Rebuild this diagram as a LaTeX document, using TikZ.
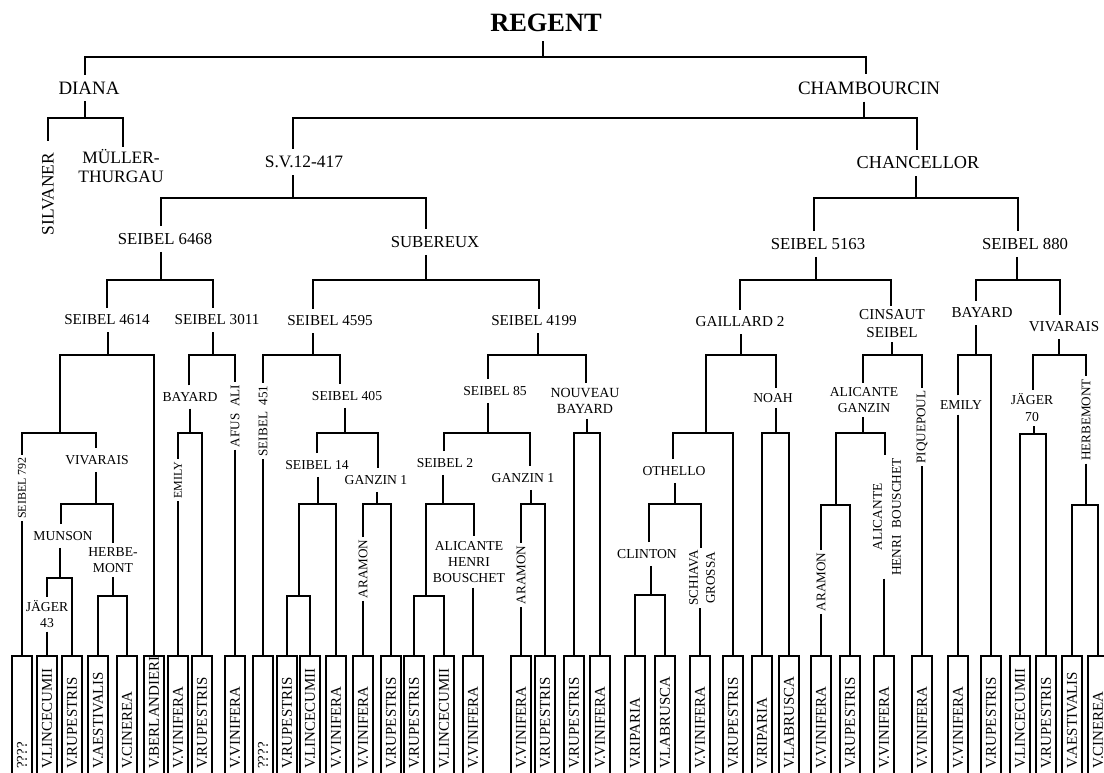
\documentclass[tikz,border=0pt]{standalone}
\usepackage{fontspec}
\setmainfont{Liberation Serif}
\begin{document}
\begin{tikzpicture}[x=1bp,y=-1bp,
  ln/.style={line width=2bp},
  lab/.style={inner xsep=1pt, inner ysep=7pt, align=center},
  vlab/.style={rotate=90, inner xsep=2.5pt, inner ysep=1pt, align=center},
  fA/.style={font=\fontsize{19}{22}\selectfont},
  fB/.style={font=\fontsize{17.5}{20}\selectfont},
  fC/.style={font=\fontsize{16.8}{19}\selectfont},
  fD/.style={font=\fontsize{15.2}{18}\selectfont},
  fE/.style={font=\fontsize{13.7}{15.5}\selectfont},
  fF/.style={font=\fontsize{12}{14}\selectfont},
  fG/.style={font=\fontsize{13.2}{17}\selectfont},
  leafbox/.style={draw, line width=2bp, minimum width=20bp, minimum height=140bp, anchor=north, inner sep=0pt},
  leaftext/.style={rotate=90, anchor=west, inner sep=0pt, font=\fontsize{15}{15}\selectfont}
]
\useasboundingbox (0,0) rectangle (1104,773);

% ---------- labels ----------
\node[inner sep=0pt, inner ysep=9pt, font=\fontsize{26.5}{30}\selectfont\bfseries] (reg) at (546,23) {REGENT};
\node[lab,fA] (diana) at (89,88) {DIANA};
\node[lab,fA] (chamb) at (869,88) {CHAMBOURCIN};
\node[vlab,fB,inner xsep=12pt] (silv) at (48,194) {SILVANER};
\node[lab,fB,inner ysep=2pt] (mull) at (121,166) {MÜLLER-\\THURGAU};
\node[lab,fB] (sv) at (304,162) {S.V.12-417};
\node[lab,fA,font=\fontsize{18.3}{21}\selectfont] (chan) at (918,163) {CHANCELLOR};
\node[lab,fC] (s6468) at (165,239) {SEIBEL 6468};
\node[lab,fC] (sub) at (435,242) {SUBEREUX};
\node[lab,fC] (s5163) at (818,244) {SEIBEL 5163};
\node[lab,fC] (s880) at (1025,244) {SEIBEL 880};

\node[lab,fD] (s4614) at (107,320) {SEIBEL 4614};
\node[lab,fD] (s3011) at (217,320) {SEIBEL 3011};
\node[lab,fD] (s4595) at (330,321) {SEIBEL 4595};
\node[lab,fD] (s4199) at (534,321) {SEIBEL 4199};
\node[lab,fD] (gail) at (740,322) {GAILLARD 2};
\node[lab,fD,inner ysep=4pt] (cins) at (892,324) {CINSAUT\\SEIBEL};
\node[lab,fD] (bay2) at (982,313) {BAYARD};
\node[lab,fD] (viv2) at (1064,327) {VIVARAIS};

\node[vlab,fF] (s792) at (22,488) {SEIBEL 792};
\node[lab,fE] (viv1) at (97,460) {VIVARAIS};
\node[lab,fE] (mun) at (63,536) {MUNSON};
\node[lab,fE,inner ysep=4pt] (jag43) at (47,614) {JÄGER\\43};
\node[lab,fE,inner ysep=5pt] (herb1) at (113,560) {HERBE-\\MONT};
\node[lab,fE] (bay1) at (190,397) {BAYARD};
\node[vlab,fF] (emily1) at (178,480) {EMILY};
\node[vlab,fG] (afus) at (235,416) {AFUS\ \ ALI};

\node[vlab,fG] (s451) at (263,421) {SEIBEL\ \ 451};
\node[lab,fE] (s405) at (347,396) {SEIBEL 405};
\node[lab,fE] (s14) at (317,465) {SEIBEL 14};
\node[lab,fE] (gan1) at (376,480) {GANZIN 1};
\node[vlab,fG] (ara1) at (363,569) {ARAMON};
\node[lab,fE] (s85) at (495,391) {SEIBEL 85};
\node[lab,fE] (s2) at (445,463) {SEIBEL 2};
\node[lab,fE,font=\fontsize{13.7}{16}\selectfont,inner ysep=5pt] (ahb1) at (469,562) {ALICANTE\\HENRI\\BOUSCHET};
\node[lab,fE] (gan2) at (523,478) {GANZIN 1};
\node[vlab,fG] (ara2) at (521,575) {ARAMON};
\node[lab,fE,font=\fontsize{14}{16}\selectfont,inner ysep=5pt] (nbay) at (585,401) {NOUVEAU\\BAYARD};

\node[lab,fE] (oth) at (674,471) {OTHELLO};
\node[lab,fE,inner ysep=5pt] (noah) at (773,398) {NOAH};
\node[lab,fE] (clin) at (647,554) {CLINTON};
\node[vlab,fG] (sch) at (702,578) {SCHIAVA\\GROSSA};
\node[lab,fE,inner ysep=5pt] (alg) at (864,400) {ALICANTE\\GANZIN};
\node[vlab,fG] (ara3) at (821,582) {ARAMON};
\node[vlab,font=\fontsize{13.4}{19}\selectfont] (ahb2) at (887,517) {ALICANTE\\HENRI\ \ BOUSCHET};
\node[vlab,fG] (piq) at (922,427) {PIQUEPOUL};
\node[lab,fE,inner ysep=5pt] (emily2) at (961,405) {EMILY};
\node[lab,fE,font=\fontsize{13.7}{17}\selectfont,inner ysep=4pt] (jag70) at (1032,408) {JÄGER\\70};
\node[vlab,fG] (herb2) at (1086,420) {HERBEMONT};

% ---------- leaves ----------
\foreach \i/\x/\t in {1/22/????, 2/47/V.LINCECUMII, 3/72/V.RUPESTRIS, 4/98/V.AESTIVALIS,
  5/127/V.CINEREA, 6/154/V.BERLANDIERI, 7/178/V.VINIFERA, 8/202/V.RUPESTRIS,
  9/235/V.VINIFERA, 10/263/????, 11/287/V.RUPESTRIS, 12/310/V.LINCECUMII,
  13/336/V.VINIFERA, 14/363/V.VINIFERA, 15/391/V.RUPESTRIS, 16/414/V.RUPESTRIS,
  17/444/V.LINCECUMII, 18/473/V.VINIFERA, 19/521/V.VINIFERA, 20/545/V.RUPESTRIS,
  21/574/V.RUPESTRIS, 22/600/V.VINIFERA, 23/635/V.RIPARIA, 24/665/V.LABRUSCA,
  25/700/V.VINIFERA, 26/733/V.RUPESTRIS, 27/762/V.RIPARIA, 28/789/V.LABRUSCA,
  29/821/V.VINIFERA, 30/850/V.RUPESTRIS, 31/884/V.VINIFERA, 32/922/V.VINIFERA,
  33/958/V.VINIFERA, 34/991/V.RUPESTRIS, 35/1020/V.LINCECUMII, 36/1046/V.RUPESTRIS,
  37/1072/V.AESTIVALIS, 38/1098/V.CINEREA}
{
  \node[leafbox] (L\i) at (\x,655) {};
  \node[leaftext] (T\i) at (\x,769) {\t};
}

% ---------- connectors ----------
\begin{scope}[ln]
% REGENT
\draw (reg.south -| 543,0) -- (543,57);
\draw (diana.north -| 85,0) |- (866,57) -- (chamb.north -| 866,0);
% DIANA
\draw (diana.south -| 85,0) -- (85,118);
\draw (silv.east) |- (123,118) -- (mull.north -| 123,0);
% CHAMBOURCIN
\draw (chamb.south -| 864,0) -- (864,118);
\draw (sv.north -| 293,0) |- (917,118) -- (chan.north -| 917,0);
% S.V.12-417
\draw (sv.south -| 293,0) -- (293,198);
\draw (s6468.north -| 161,0) |- (426,198) -- (sub.north -| 426,0);
% CHANCELLOR
\draw (chan.south -| 916,0) -- (916,198);
\draw (s5163.north -| 814,0) |- (1018,198) -- (s880.north -| 1018,0);
% SEIBEL 6468
\draw (s6468.south -| 161,0) -- (161,280);
\draw (s4614.north -| 107,0) |- (213,280) -- (s3011.north -| 213,0);
% SUBEREUX
\draw (sub.south -| 426,0) -- (426,280);
\draw (s4595.north -| 313,0) |- (539,280) -- (s4199.north -| 539,0);
% SEIBEL 5163
\draw (s5163.south -| 816,0) -- (816,280);
\draw (gail.north -| 740,0) |- (891,280) -- (cins.north -| 891,0);
% SEIBEL 880
\draw (s880.south -| 1017,0) -- (1017,280);
\draw (bay2.north -| 976,0) |- (1060,280) -- (viv2.north -| 1060,0);

% SEIBEL 4614
\draw (s4614.south -| 108,0) -- (108,355);
\draw (60,433) |- (L6.north |- 0,355) -- (L6.north);
\draw (s792.east) |- (96,433) -- (viv1.north -| 96,0);
\draw (s792.west) -- (L1.north);
\draw (viv1.south -| 96,0) -- (96,504);
\draw (mun.north -| 61,0) |- (113,504) -- (herb1.north -| 113,0);
\draw (mun.south -| 60,0) -- (60,578);
\draw (jag43.north -| 47,0) |- (L3.north |- 0,578) -- (L3.north);
\draw (jag43.south -| 47,0) -- (L2.north);
\draw (herb1.south -| 113,0) -- (113,596);
\draw (L4.north) |- (L5.north |- 0,596) -- (L5.north);
% SEIBEL 3011
\draw (s3011.south -| 213,0) -- (213,355);
\draw (bay1.north -| 189,0) |- (235,355) -- (afus.east);
\draw (afus.west) -- (L9.north);
\draw (bay1.south -| 190,0) -- (190,433);
\draw (emily1.east) |- (L8.north |- 0,433) -- (L8.north);
\draw (emily1.west) -- (L7.north);

% SEIBEL 4595
\draw (s4595.south -| 313,0) -- (313,355);
\draw (s451.east) |- (340,355) -- (s405.north -| 340,0);
\draw (s451.west) -- (L10.north);
\draw (s405.south -| 345,0) -- (345,433);
\draw (s14.north -| 317,0) |- (378,433) -- (gan1.north -| 378,0);
\draw (s14.south -| 318,0) -- (318,504);
\draw (299,596) |- (L13.north |- 0,504) -- (L13.north);
\draw (L11.north) |- (L12.north |- 0,596) -- (L12.north);
\draw (gan1.south -| 377,0) -- (377,504);
\draw (ara1.east) |- (L15.north |- 0,504) -- (L15.north);
\draw (ara1.west) -- (L14.north);

% SEIBEL 4199
\draw (s4199.south -| 538,0) -- (538,355);
\draw (s85.north -| 488,0) |- (586,355) -- (nbay.north -| 586,0);
\draw (s85.south -| 488,0) -- (488,433);
\draw (s2.north -| 444,0) |- (530,433) -- (gan2.north -| 530,0);
\draw (s2.south -| 443,0) -- (443,504);
\draw (426,596) |- (474,504) -- (ahb1.north -| 474,0);
\draw (L16.north) |- (L17.north |- 0,596) -- (L17.north);
\draw (ahb1.south -| 473,0) -- (L18.north);
\draw (gan2.south -| 531,0) -- (531,504);
\draw (ara2.east) |- (L20.north |- 0,504) -- (L20.north);
\draw (ara2.west) -- (L19.north);
\draw (nbay.south -| 587,0) -- (587,433);
\draw (L21.north) |- (L22.north |- 0,433) -- (L22.north);

% GAILLARD 2
\draw (gail.south -| 741,0) -- (741,355);
\draw (706,433) |- (776,355) -- (noah.north -| 776,0);
\draw (noah.south -| 776,0) -- (776,433);
\draw (L27.north) |- (L28.north |- 0,433) -- (L28.north);
\draw (oth.north -| 673,0) |- (L26.north |- 0,433) -- (L26.north);
\draw (oth.south -| 675,0) -- (675,504);
\draw (clin.north -| 649,0) |- (701,504) -- (sch.east -| 701,0);
\draw (clin.south -| 651,0) -- (651,595);
\draw (L23.north) |- (L24.north |- 0,595) -- (L24.north);
\draw (sch.west -| 700,0) -- (L25.north);

% CINSAUT SEIBEL
\draw (cins.south -| 892,0) -- (892,355);
\draw (alg.north -| 863,0) |- (922,355) -- (piq.east);
\draw (piq.west) -- (L32.north);
\draw (alg.south -| 863,0) -- (863,433);
\draw (836,505) |- (885,433) -- (ahb2.east -| 885,0);
\draw (ahb2.west -| 884,0) -- (L31.north);
\draw (ara3.east) |- (L30.north |- 0,505) -- (L30.north);
\draw (ara3.west) -- (L29.north);

% BAYARD (right)
\draw (bay2.south -| 976,0) -- (976,355);
\draw (emily2.north -| 958,0) |- (L34.north |- 0,355) -- (L34.north);
\draw (emily2.south -| 958,0) -- (L33.north);

% VIVARAIS (right)
\draw (viv2.south -| 1059,0) -- (1059,355);
\draw (jag70.north -| 1033,0) |- (1086,355) -- (herb2.east);
\draw (jag70.south -| 1034,0) -- (1034,434);
\draw (L35.north) |- (L36.north |- 0,434) -- (L36.north);
\draw (herb2.west) -- (1086,505);
\draw (L37.north) |- (L38.north |- 0,505) -- (L38.north);
\end{scope}
\end{tikzpicture}
\end{document}
